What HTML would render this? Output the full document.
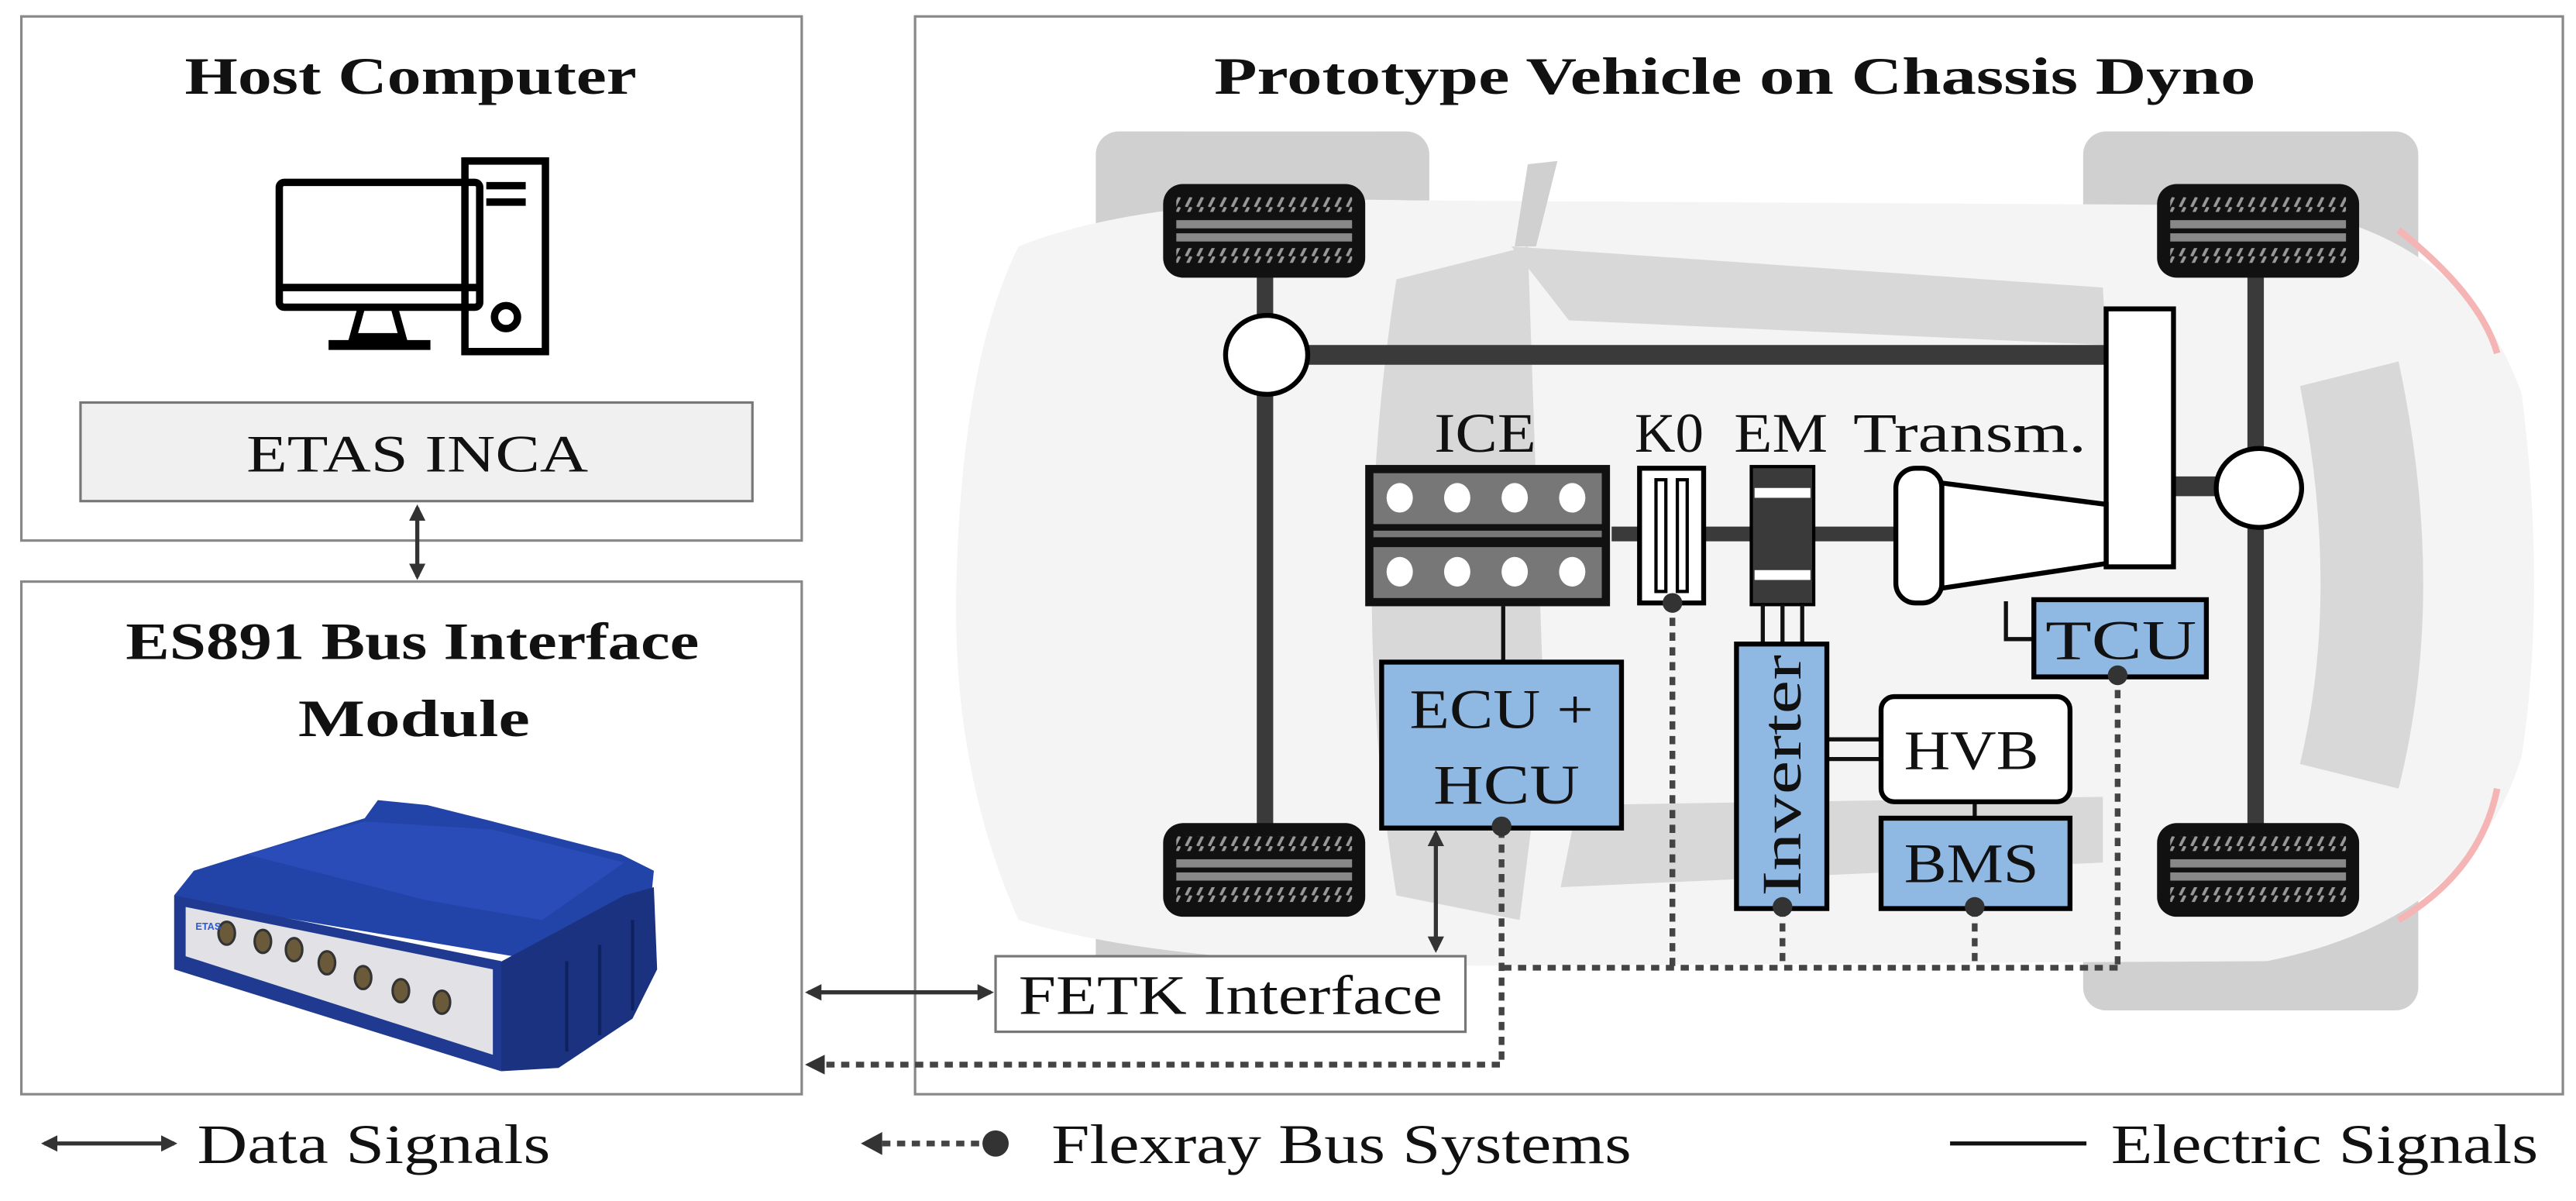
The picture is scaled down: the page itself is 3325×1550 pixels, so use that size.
<!DOCTYPE html>
<html><head><meta charset="utf-8"><style>
html,body{margin:0;padding:0;background:#fff;}
svg{display:block;}
text{font-family:"Liberation Serif",serif;fill:#111;}
.b{font-weight:bold;}
</style></head><body>
<svg width="3325" height="1550" viewBox="0 0 1568 731" preserveAspectRatio="none" xmlns="http://www.w3.org/2000/svg">
<defs>
<marker id="ah" markerWidth="10" markerHeight="10" refX="8" refY="5" orient="auto-start-reverse" markerUnits="userSpaceOnUse"><path d="M0,0 L10,5 L0,10 Z" fill="#333"/></marker>
<pattern id="tread" width="7" height="6" patternUnits="userSpaceOnUse"><path d="M1,6 L4,0" stroke="#999" stroke-width="1.8"/></pattern>
</defs>

<!-- Host computer -->
<rect x="13" y="10" width="475" height="319" fill="#fff" stroke="#888" stroke-width="1.5"/>
<text x="250" y="57" font-size="32" class="b" text-anchor="middle" textLength="275" lengthAdjust="spacingAndGlyphs">Host Computer</text>
<g fill="none" stroke="#000" stroke-width="4.5">
<rect x="170" y="111" width="122" height="76" rx="3"/>
<line x1="170" y1="175" x2="292" y2="175"/>
<path d="M220,187 L215,205 L245,205 L240,187"/>
<path d="M200,210 L262,210" stroke-width="6"/>
<rect x="283" y="98" width="49" height="116"/>
<line x1="296" y1="113" x2="320" y2="113"/>
<line x1="296" y1="123" x2="320" y2="123"/>
<circle cx="308" cy="193" r="7"/>
</g>
<rect x="49" y="245" width="409" height="60" fill="#f0f0f0" stroke="#777" stroke-width="1.5"/>
<text x="254" y="287" font-size="32" text-anchor="middle" textLength="208" lengthAdjust="spacingAndGlyphs">ETAS INCA</text>
<line x1="254" y1="309" x2="254" y2="351" stroke="#333" stroke-width="2.5" marker-start="url(#ah)" marker-end="url(#ah)"/>

<!-- ES891 -->
<rect x="13" y="354" width="475" height="312" fill="#fff" stroke="#888" stroke-width="1.5"/>
<text x="251" y="401" font-size="32" class="b" text-anchor="middle" textLength="349" lengthAdjust="spacingAndGlyphs">ES891 Bus Interface</text>
<text x="252" y="448" font-size="32" class="b" text-anchor="middle" textLength="141" lengthAdjust="spacingAndGlyphs">Module</text>
<g>
<!-- top face -->
<polygon points="106,545 118,530 150,520 222,498 230,487 260,490 300,500 378,520 398,530 395,560 330,585 110,548" fill="#2244a8"/>
<polygon points="150,520 222,500 300,505 380,525 330,560 260,548" fill="#2a4cb8"/>
<!-- right side -->
<polygon points="300,588 380,545 398,540 400,590 385,620 340,650 305,652" fill="#1a3280"/>
<g stroke="#0f2260" stroke-width="2"><line x1="345" y1="585" x2="345" y2="640"/><line x1="365" y1="575" x2="365" y2="630"/><line x1="385" y1="560" x2="385" y2="615"/></g>
<!-- front frame -->
<polygon points="106,545 305,585 305,652 106,590" fill="#1f3a90"/>
<polygon points="113,552 300,590 300,642 113,582" fill="#e2e2e6"/>
<g fill="#6b5a3a" stroke="#333" stroke-width="1.5"><ellipse cx="138" cy="568" rx="5" ry="7"/><ellipse cx="160" cy="573" rx="5" ry="7"/><ellipse cx="179" cy="578" rx="5" ry="7"/><ellipse cx="199" cy="586" rx="5" ry="7"/><ellipse cx="221" cy="595" rx="5" ry="7"/><ellipse cx="244" cy="603" rx="5" ry="7"/><ellipse cx="269" cy="610" rx="5" ry="7"/></g>
<text x="119" y="566" font-size="6" style="fill:#2a5bd0;font-family:'Liberation Sans',sans-serif" font-weight="bold">ETAS</text>
</g>

<!-- Vehicle -->
<rect x="557" y="10" width="1003" height="656" fill="#fff" stroke="#888" stroke-width="1.5"/>
<text x="1056" y="57" font-size="32" class="b" text-anchor="middle" textLength="634" lengthAdjust="spacingAndGlyphs">Prototype Vehicle on Chassis Dyno</text>

<rect x="667" y="80" width="203" height="535" rx="14" fill="#d0d0d0"/>
<rect x="1268" y="80" width="204" height="535" rx="14" fill="#d0d0d0"/>
<path d="M620,150 Q700,118 860,122 L1380,125 Q1500,140 1535,240 Q1550,360 1535,460 Q1505,560 1380,585 L860,588 Q700,585 620,560 Q580,470 582,360 Q585,220 620,150 Z" fill="#f4f4f4"/>
<path d="M850,170 L930,150 L940,440 L925,560 L850,545 Q820,360 850,170Z" fill="#d8d8d8"/>
<path d="M920,150 L1280,175 L1282,210 L955,195Z" fill="#d8d8d8"/>
<path d="M960,490 L1280,485 L1280,525 L950,540Z" fill="#d8d8d8"/>
<path d="M1400,235 L1460,220 Q1490,360 1460,480 L1400,465 Q1425,360 1400,235Z" fill="#d8d8d8"/>
<path d="M930,100 L948,98 L935,150 L922,150Z" fill="#d0d0d0"/>
<path d="M1460,140 Q1510,180 1520,215" stroke="#f5b5b5" stroke-width="4" fill="none"/>
<path d="M1520,480 Q1510,530 1460,560" stroke="#f5b5b5" stroke-width="4" fill="none"/>

<!-- axles -->
<g stroke="#3a3a3a" stroke-width="10">
<line x1="770" y1="140" x2="770" y2="528"/>
<line x1="1373" y1="140" x2="1373" y2="528"/>
<line x1="796" y1="216" x2="1282" y2="216" stroke-width="12"/>
<line x1="1324" y1="296" x2="1350" y2="296" stroke-width="12"/>
<line x1="981" y1="325" x2="1153" y2="325" stroke-width="9"/>
</g>

<!-- tires -->
<g>
<g id="tire">
<rect x="708" y="112" width="123" height="57" rx="12" fill="#111"/>
<rect x="716" y="120" width="107" height="9" fill="url(#tread)"/>
<rect x="716" y="134" width="107" height="5" fill="#888"/>
<rect x="716" y="142" width="107" height="5" fill="#888"/>
<rect x="716" y="151" width="107" height="9" fill="url(#tread)"/>
</g>
<use href="#tire" x="0" y="389"/>
<use href="#tire" x="605" y="0"/>
<use href="#tire" x="605" y="389"/>
</g>

<ellipse cx="771" cy="216" rx="25" ry="24" fill="#fff" stroke="#000" stroke-width="3"/>
<ellipse cx="1375" cy="297" rx="26" ry="24" fill="#fff" stroke="#000" stroke-width="3"/>
<rect x="1282" y="188" width="41" height="157" fill="#fff" stroke="#000" stroke-width="3"/>

<!-- labels -->
<text x="904" y="275" font-size="34" text-anchor="middle" textLength="62" lengthAdjust="spacingAndGlyphs">ICE</text>
<text x="1016" y="275" font-size="34" text-anchor="middle" textLength="42" lengthAdjust="spacingAndGlyphs">K0</text>
<text x="1084" y="275" font-size="34" text-anchor="middle" textLength="57" lengthAdjust="spacingAndGlyphs">EM</text>
<text x="1199" y="275" font-size="34" text-anchor="middle" textLength="142" lengthAdjust="spacingAndGlyphs">Transm.</text>

<!-- ICE -->
<rect x="831" y="283" width="149" height="86" fill="#111"/>
<rect x="836" y="288" width="139" height="31" fill="#777"/>
<rect x="836" y="323" width="139" height="4" fill="#777"/>
<rect x="836" y="333" width="139" height="31" fill="#777"/>
<g fill="#fff"><ellipse cx="852" cy="303" rx="8" ry="9"/><ellipse cx="887" cy="303" rx="8" ry="9"/><ellipse cx="922" cy="303" rx="8" ry="9"/><ellipse cx="957" cy="303" rx="8" ry="9"/>
<ellipse cx="852" cy="348" rx="8" ry="9"/><ellipse cx="887" cy="348" rx="8" ry="9"/><ellipse cx="922" cy="348" rx="8" ry="9"/><ellipse cx="957" cy="348" rx="8" ry="9"/></g>

<!-- K0 -->
<rect x="998" y="285" width="39" height="82" fill="#fff" stroke="#000" stroke-width="3"/>
<rect x="1008" y="292" width="6" height="68" fill="#fff" stroke="#000" stroke-width="2"/>
<rect x="1021" y="292" width="6" height="68" fill="#fff" stroke="#000" stroke-width="2"/>
<!-- EM -->
<rect x="1066" y="284" width="38" height="84" fill="#3a3a3a" stroke="#000" stroke-width="2"/>
<rect x="1068" y="297" width="34" height="6" fill="#fff"/>
<rect x="1068" y="347" width="34" height="6" fill="#fff"/>
<!-- transmission -->
<rect x="1154" y="285" width="28" height="82" rx="12" fill="#fff" stroke="#000" stroke-width="3"/>
<polygon points="1182,294 1282,307 1282,343 1182,358" fill="#fff" stroke="#000" stroke-width="3"/>

<!-- connectors electric -->
<g stroke="#111" stroke-width="2.5" fill="none">
<line x1="915" y1="369" x2="915" y2="403"/>
<path d="M1221,366 L1221,389 L1238,389"/>
<line x1="1073" y1="368" x2="1073" y2="392"/>
<line x1="1085" y1="368" x2="1085" y2="392"/>
<line x1="1097" y1="368" x2="1097" y2="392"/>
<line x1="1113" y1="450" x2="1145" y2="450"/>
<line x1="1113" y1="462" x2="1145" y2="462"/>
<line x1="1202" y1="488" x2="1202" y2="498"/>
</g>

<!-- ECUs -->
<rect x="841" y="403" width="146" height="101" fill="#8fb8e3" stroke="#000" stroke-width="3"/>
<text x="914" y="443" font-size="34" text-anchor="middle" textLength="112" lengthAdjust="spacingAndGlyphs">ECU +</text>
<text x="917" y="489" font-size="34" text-anchor="middle" textLength="89" lengthAdjust="spacingAndGlyphs">HCU</text>
<rect x="1238" y="365" width="105" height="47" fill="#8fb8e3" stroke="#000" stroke-width="3"/>
<text x="1291" y="401" font-size="34" text-anchor="middle" textLength="92" lengthAdjust="spacingAndGlyphs">TCU</text>
<rect x="1057" y="392" width="55" height="161" fill="#8fb8e3" stroke="#000" stroke-width="3"/>
<text transform="translate(1096,472) rotate(-90)" font-size="34" text-anchor="middle" textLength="147" lengthAdjust="spacingAndGlyphs">Inverter</text>
<rect x="1145" y="424" width="115" height="64" rx="8" fill="#fff" stroke="#000" stroke-width="3"/>
<text x="1200" y="468" font-size="34" text-anchor="middle" textLength="82" lengthAdjust="spacingAndGlyphs">HVB</text>
<rect x="1145" y="498" width="115" height="55" fill="#8fb8e3" stroke="#000" stroke-width="3"/>
<text x="1200" y="537" font-size="34" text-anchor="middle" textLength="82" lengthAdjust="spacingAndGlyphs">BMS</text>

<!-- bus dotted -->
<g stroke="#444" stroke-width="3.5" stroke-dasharray="5,4" fill="none">
<line x1="1018" y1="367" x2="1018" y2="589"/>
<line x1="1085" y1="553" x2="1085" y2="589"/>
<line x1="1202" y1="553" x2="1202" y2="589"/>
<line x1="1289" y1="411" x2="1289" y2="589"/>
<path d="M1289,589 L915,589"/>
<path d="M914,505 L914,648 L502,648"/>
</g>
<polygon points="490,648 502,642 502,654" fill="#333"/>
<g fill="#333"><circle cx="1018" cy="367" r="6"/><circle cx="914" cy="503" r="6"/><circle cx="1085" cy="552" r="6"/><circle cx="1202" cy="552" r="6"/><circle cx="1289" cy="411" r="6"/></g>

<!-- FETK -->
<line x1="874" y1="507" x2="874" y2="578" stroke="#333" stroke-width="2.5" marker-start="url(#ah)" marker-end="url(#ah)"/>
<rect x="606" y="582" width="286" height="46" fill="#fff" stroke="#777" stroke-width="1.5"/>
<text x="749" y="617" font-size="34" text-anchor="middle" textLength="258" lengthAdjust="spacingAndGlyphs">FETK Interface</text>
<line x1="492" y1="604" x2="603" y2="604" stroke="#333" stroke-width="2.5" marker-start="url(#ah)" marker-end="url(#ah)"/>

<!-- legend -->
<line x1="27" y1="696" x2="106" y2="696" stroke="#333" stroke-width="2.5" marker-start="url(#ah)" marker-end="url(#ah)"/>
<text x="120" y="708" font-size="34" textLength="215" lengthAdjust="spacingAndGlyphs">Data Signals</text>
<polygon points="524,696 537,689 537,703" fill="#333"/>
<line x1="537" y1="696" x2="600" y2="696" stroke="#444" stroke-width="3.5" stroke-dasharray="5,4"/>
<circle cx="606" cy="696" r="8" fill="#333"/>
<text x="640" y="708" font-size="34" textLength="353" lengthAdjust="spacingAndGlyphs">Flexray Bus Systems</text>
<line x1="1187" y1="696" x2="1270" y2="696" stroke="#111" stroke-width="2.5"/>
<text x="1285" y="708" font-size="34" textLength="260" lengthAdjust="spacingAndGlyphs">Electric Signals</text>
</svg>
</body></html>
